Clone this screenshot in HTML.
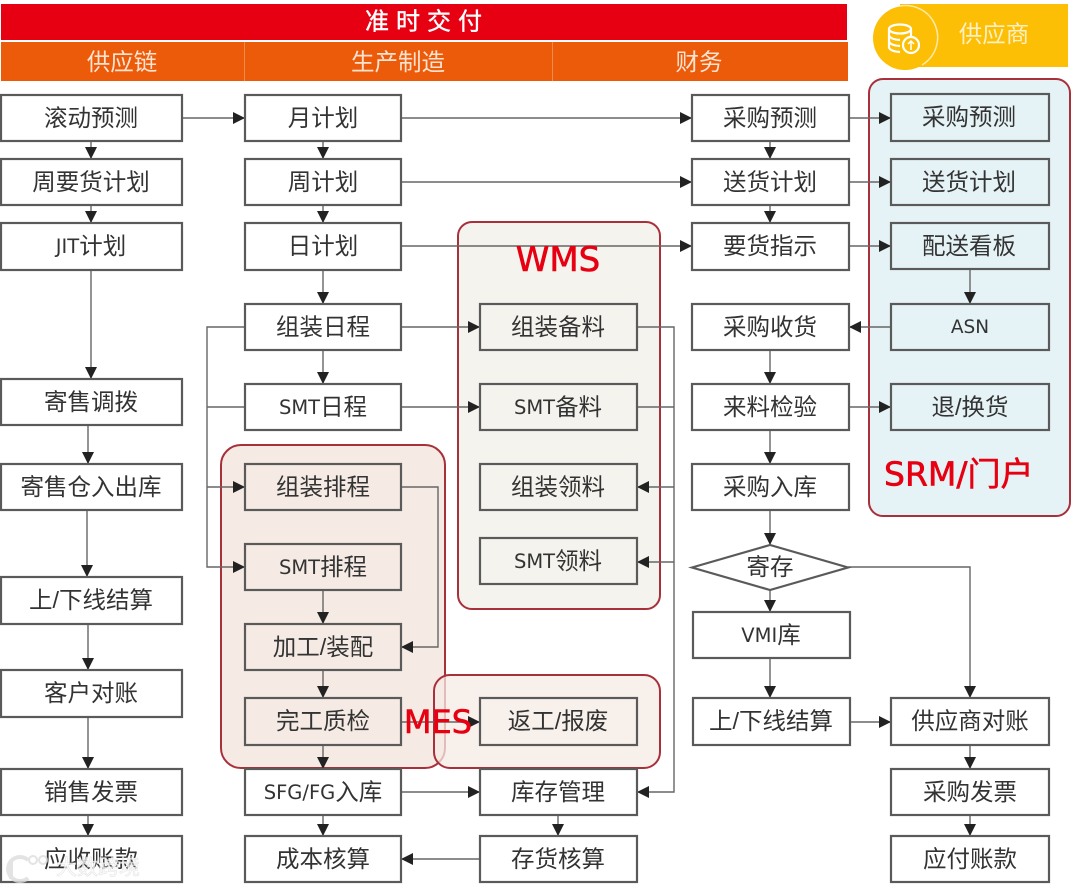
<!DOCTYPE html>
<html><head><meta charset="utf-8"><style>
html,body{margin:0;padding:0;background:#fff;width:1080px;height:888px;overflow:hidden}
svg{display:block}
text{font-family:"Liberation Sans","Noto Sans CJK SC",sans-serif}
.b{fill:#fff;stroke:#5a5a5a;stroke-width:2.2}
.t{fill:none}
.l{font-size:23.5px;fill:#333;text-anchor:middle;dominant-baseline:central}
.x{font-family:"DejaVu Sans",sans-serif;font-size:19.5px}
.c{fill:none;stroke:#666;stroke-width:1.4}
.g{stroke:#a8303a;stroke-width:2}
.r{fill:#e60012;stroke:#e60012;stroke-width:.6;font-family:"DejaVu Sans","Noto Sans CJK SC",sans-serif}
</style></head><body>
<svg width="1080" height="888" viewBox="0 0 1080 888" xmlns="http://www.w3.org/2000/svg">
<defs><marker id="a" markerUnits="userSpaceOnUse" markerWidth="13" markerHeight="13" refX="12" refY="6.500" orient="auto"><path d="M0 .5L12 6.500L0 12.500Z" fill="#222"/></marker></defs>

<rect x="1" y="4" width="846" height="36" fill="#e60012"/>
<text x="427" y="22" font-size="24" fill="#fff" stroke="#fff" stroke-width=".4" text-anchor="middle" dominant-baseline="central" letter-spacing="7">准时交付</text>
<rect x="1" y="42" width="847" height="39" fill="#ec5b0a"/>
<path d="M244.500 42V81M552.500 42V81" stroke="#f28a4e" stroke-width="1"/>
<text x="122" y="62" font-size="23.500" fill="#fde3d2" text-anchor="middle" dominant-baseline="central">供应链</text>
<text x="398" y="62" font-size="23.500" fill="#fde3d2" text-anchor="middle" dominant-baseline="central">生产制造</text>
<text x="699" y="62" font-size="23.500" fill="#fde3d2" text-anchor="middle" dominant-baseline="central">财务</text>

<rect x="900" y="4" width="168" height="63" fill="#fcbf05"/>
<circle cx="905" cy="38" r="32" fill="#fcbf05"/>
<path d="M900 6A32 32 0 0 1 922 65" fill="none" stroke="#fde9a8" stroke-width="1.500"/>
<text x="994" y="34" font-size="23.500" fill="#fdf0c4" text-anchor="middle" dominant-baseline="central">供应商</text>
<g fill="none" stroke="#fff" stroke-width="2.200">
<ellipse cx="900" cy="29" rx="11" ry="4.500"/>
<path d="M889 29V47C889 50 895 52 900 52M911 29V36M889 35C889 38 895 40 900 40M889 41C889 44 895 46 900 46"/>
<circle cx="911" cy="45" r="8"/>
<path d="M911 50V41M908 44L911 41L914 44" stroke-width="1.500"/>
</g>

<rect x="869" y="79" width="201" height="437" rx="14" fill="#e6f3f6" class="g"/>
<rect x="458" y="222" width="202" height="387" rx="14" fill="#f5f3ee" class="g"/>
<rect x="221" y="445" width="224" height="323" rx="20" fill="#f5ebe4" class="g"/>
<rect x="434" y="675" width="226" height="93" rx="16" fill="#f5ebe4" fill-opacity=".75" class="g"/>

<g>
<path class="c" marker-end="url(#a)" d="M182 118H245"/>
<path class="c" marker-end="url(#a)" d="M401 118H692"/>
<path class="c" marker-end="url(#a)" d="M401 182H692"/>
<path class="c" marker-end="url(#a)" d="M401 246H692"/>
<path class="c" marker-end="url(#a)" d="M849 118H891"/>
<path class="c" marker-end="url(#a)" d="M849 182H891"/>
<path class="c" marker-end="url(#a)" d="M849 246H891"/>
<path class="c" marker-end="url(#a)" d="M91 141V159"/>
<path class="c" marker-end="url(#a)" d="M91 205V223"/>
<path class="c" marker-end="url(#a)" d="M91 270V379"/>
<path class="c" marker-end="url(#a)" d="M88 425V464"/>
<path class="c" marker-end="url(#a)" d="M87 510V577"/>
<path class="c" marker-end="url(#a)" d="M88 624V670"/>
<path class="c" marker-end="url(#a)" d="M88 717V769"/>
<path class="c" marker-end="url(#a)" d="M88 815V836"/>
<path class="c" marker-end="url(#a)" d="M323 141V159"/>
<path class="c" marker-end="url(#a)" d="M323 205V223"/>
<path class="c" marker-end="url(#a)" d="M323 270V304"/>
<path class="c" marker-end="url(#a)" d="M323 350V384"/>
<path class="c" marker-end="url(#a)" d="M323 590V624"/>
<path class="c" marker-end="url(#a)" d="M323 670V698"/>
<path class="c" marker-end="url(#a)" d="M323 745V769"/>
<path class="c" marker-end="url(#a)" d="M323 815V836"/>
<path class="c" marker-end="url(#a)" d="M401 327H480"/>
<path class="c" marker-end="url(#a)" d="M401 407H480"/>
<path class="c" marker-end="url(#a)" d="M245 327H207V567H245"/>
<path class="c" d="M245 407H207"/>
<path class="c" marker-end="url(#a)" d="M207 487H245"/>
<path class="c" marker-end="url(#a)" d="M401 487H438V647H401"/>
<path class="c" marker-end="url(#a)" d="M401 722H480"/>
<path class="c" marker-end="url(#a)" d="M401 792H480"/>
<path class="c" marker-end="url(#a)" d="M558 815V836"/>
<path class="c" marker-end="url(#a)" d="M480 859H401"/>
<path class="c" marker-end="url(#a)" d="M637 327H674V792H637"/>
<path class="c" d="M637 407H674"/>
<path class="c" marker-end="url(#a)" d="M674 487H637"/>
<path class="c" marker-end="url(#a)" d="M674 562H637"/>
<path class="c" marker-end="url(#a)" d="M770 141V159"/>
<path class="c" marker-end="url(#a)" d="M770 205V223"/>
<path class="c" marker-end="url(#a)" d="M770 350V384"/>
<path class="c" marker-end="url(#a)" d="M770 430V464"/>
<path class="c" marker-end="url(#a)" d="M770 510V545"/>
<path class="c" marker-end="url(#a)" d="M770 590V612"/>
<path class="c" marker-end="url(#a)" d="M770 658V698"/>
<path class="c" marker-end="url(#a)" d="M970 269V304"/>
<path class="c" marker-end="url(#a)" d="M891 327H849"/>
<path class="c" marker-end="url(#a)" d="M849 407H891"/>
<path class="c" marker-end="url(#a)" d="M848 567H970V698"/>
<path class="c" marker-end="url(#a)" d="M850 722H891"/>
<path class="c" marker-end="url(#a)" d="M970 745V769"/>
<path class="c" marker-end="url(#a)" d="M970 815V836"/>
</g>

<g>
<rect class="b" x="1" y="95" width="181" height="46"/><text class="l" x="91" y="118">滚动预测</text>
<rect class="b" x="1" y="159" width="181" height="46"/><text class="l" x="91" y="182">周要货计划</text>
<rect class="b" x="1" y="223" width="181" height="47"/><text class="l" x="91" y="246"><tspan class="x">JIT</tspan>计划</text>
<rect class="b" x="1" y="379" width="181" height="46"/><text class="l" x="91" y="402">寄售调拨</text>
<rect class="b" x="1" y="464" width="181" height="46"/><text class="l" x="91" y="487">寄售仓入出库</text>
<rect class="b" x="1" y="577" width="181" height="47"/><text class="l" x="91" y="600">上/下线结算</text>
<rect class="b" x="1" y="670" width="181" height="47"/><text class="l" x="91" y="693">客户对账</text>
<rect class="b" x="1" y="769" width="181" height="46"/><text class="l" x="91" y="792">销售发票</text>
<rect class="b" x="1" y="836" width="181" height="46"/><text class="l" x="91" y="859">应收账款</text>

<rect class="b" x="245" y="95" width="156" height="46"/><text class="l" x="323" y="118">月计划</text>
<rect class="b" x="245" y="159" width="156" height="46"/><text class="l" x="323" y="182">周计划</text>
<rect class="b" x="245" y="223" width="156" height="47"/><text class="l" x="323" y="246">日计划</text>
<rect class="b" x="245" y="304" width="156" height="46"/><text class="l" x="323" y="327">组装日程</text>
<rect class="b" x="245" y="384" width="156" height="46"/><text class="l" x="323" y="407"><tspan class="x">SMT</tspan>日程</text>
<rect class="b t" x="245" y="464" width="156" height="46"/><text class="l" x="323" y="487">组装排程</text>
<rect class="b t" x="245" y="544" width="156" height="46"/><text class="l" x="323" y="567"><tspan class="x">SMT</tspan>排程</text>
<rect class="b t" x="245" y="624" width="156" height="46"/><text class="l" x="323" y="647">加工/装配</text>
<rect class="b t" x="245" y="698" width="156" height="47"/><text class="l" x="323" y="721">完工质检</text>
<rect class="b" x="245" y="769" width="156" height="46"/><text class="l" x="323" y="792"><tspan class="x">SFG/FG</tspan>入库</text>
<rect class="b" x="245" y="836" width="156" height="46"/><text class="l" x="323" y="859">成本核算</text>

<rect class="b t" x="480" y="304" width="157" height="46"/><text class="l" x="558" y="327">组装备料</text>
<rect class="b t" x="480" y="384" width="157" height="46"/><text class="l" x="558" y="407"><tspan class="x">SMT</tspan>备料</text>
<rect class="b t" x="480" y="464" width="157" height="46"/><text class="l" x="558" y="487">组装领料</text>
<rect class="b t" x="480" y="538" width="157" height="46"/><text class="l" x="558" y="561"><tspan class="x">SMT</tspan>领料</text>
<rect class="b t" x="480" y="698" width="157" height="47"/><text class="l" x="558" y="721">返工/报废</text>
<rect class="b" x="480" y="769" width="157" height="46"/><text class="l" x="558" y="792">库存管理</text>
<rect class="b" x="480" y="836" width="157" height="46"/><text class="l" x="558" y="859">存货核算</text>

<rect class="b" x="692" y="95" width="157" height="46"/><text class="l" x="770" y="118">采购预测</text>
<rect class="b" x="692" y="159" width="157" height="46"/><text class="l" x="770" y="182">送货计划</text>
<rect class="b" x="692" y="223" width="157" height="47"/><text class="l" x="770" y="246">要货指示</text>
<rect class="b" x="692" y="304" width="157" height="46"/><text class="l" x="770" y="327">采购收货</text>
<rect class="b" x="692" y="384" width="157" height="46"/><text class="l" x="770" y="407">来料检验</text>
<rect class="b" x="692" y="464" width="157" height="46"/><text class="l" x="770" y="487">采购入库</text>
<path class="b" d="M692 567.500L770 545L848 567.500L770 590Z"/><text class="l" x="770" y="567">寄存</text>
<rect class="b" x="693" y="612" width="157" height="46"/><text class="l" x="771" y="635"><tspan class="x">VMI</tspan>库</text>
<rect class="b" x="693" y="698" width="157" height="47"/><text class="l" x="771" y="721">上/下线结算</text>

<rect class="b t" x="891" y="94" width="158" height="47"/><text class="l" x="969" y="117">采购预测</text>
<rect class="b t" x="891" y="159" width="158" height="46"/><text class="l" x="969" y="182">送货计划</text>
<rect class="b t" x="891" y="223" width="158" height="46"/><text class="l" x="969" y="246">配送看板</text>
<rect class="b t" x="891" y="304" width="158" height="46"/><text class="l" x="970" y="327"><tspan class="x" style="font-size:18.5px">ASN</tspan></text>
<rect class="b t" x="891" y="384" width="158" height="46"/><text class="l" x="970" y="407">退/换货</text>
<rect class="b" x="891" y="698" width="158" height="47"/><text class="l" x="970" y="721">供应商对账</text>
<rect class="b" x="891" y="769" width="158" height="46"/><text class="l" x="970" y="792">采购发票</text>
<rect class="b" x="891" y="836" width="158" height="46"/><text class="l" x="970" y="859">应付账款</text>
</g>

<text class="r" x="558" y="260" font-size="34" text-anchor="middle" dominant-baseline="central">WMS</text>
<text class="r" x="438" y="722" font-size="32" text-anchor="middle" dominant-baseline="central">MES</text>
<text class="r" x="884" y="474" font-size="33" dominant-baseline="central">SRM/门户</text>

<g opacity=".8">
<text x="98" y="868" font-size="21" fill="#fff" text-anchor="middle" dominant-baseline="central" stroke="#ddd" stroke-width=".6">大数跨境</text>
<path d="M11 861V879M28 860A12 12 0 1 0 28 878" fill="none" stroke="#ddd" stroke-width="4"/>
<circle cx="33" cy="860" r="4" fill="none" stroke="#ddd" stroke-width="2"/>
<circle cx="43" cy="860" r="4" fill="none" stroke="#ddd" stroke-width="2"/>
</g>
</svg>
</body></html>
